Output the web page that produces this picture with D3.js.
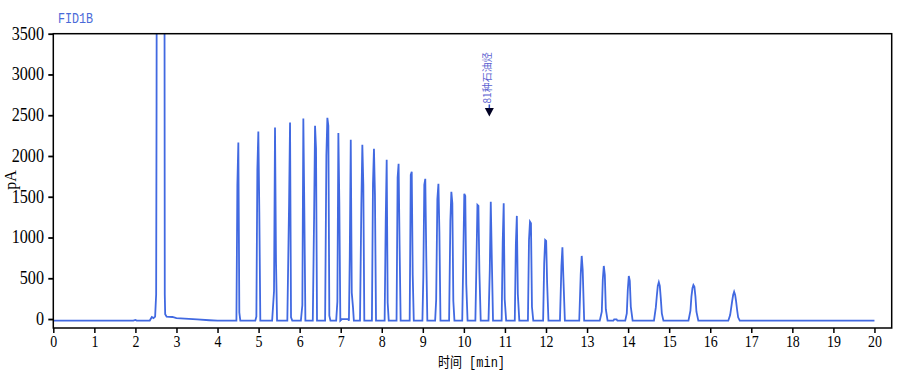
<!DOCTYPE html>
<html>
<head>
<meta charset="utf-8">
<script src="https://cdn.jsdelivr.net/npm/d3@7"></script>
<style>
  html, body { margin: 0; padding: 0; background: #fff; }
  svg { display: block; }
</style>
</head>
<body>
<svg id="chart" width="899" height="375"></svg>
<script>
// ---- data ----
const traceTime = [
  0, 1.95, 2.0, 2.03, 2.35, 2.40, 2.44, 2.48, 2.505, 2.515, 2.53, 2.70, 2.715, 2.725, 2.76, 2.90, 3.0, 3.2, 3.5, 3.8, 4.0,
  4.46, 4.483, 4.507, 4.531, 4.555,
  4.92, 4.946, 4.970, 4.994, 5.018, 5.042,
  5.33, 5.376, 5.40, 5.424, 5.45,
  5.70, 5.742, 5.766, 5.79, 5.82,
  6.03, 6.066, 6.09, 6.114, 6.14,
  6.32, 6.351, 6.375, 6.399, 6.423,
  6.62, 6.651, 6.675, 6.699, 6.723, 6.75,
  6.89, 6.919, 6.943, 6.967, 6.991,
  7.03, 7.18,
  7.20, 7.221, 7.245, 7.269, 7.30, 7.32,
  7.47, 7.503, 7.527, 7.551, 7.575,
  7.76, 7.786, 7.81, 7.834, 7.86,
  8.07, 8.096, 8.12, 8.144, 8.17,
  8.36, 8.386, 8.41, 8.434, 8.46,
  8.68, 8.706, 8.73, 8.754, 8.78,
  8.99, 9.012, 9.036, 9.06, 9.084, 9.11,
  9.30, 9.325, 9.354, 9.38, 9.404, 9.43,
  9.64, 9.671, 9.695, 9.719, 9.743, 9.77,
  9.96, 9.986, 10.01, 10.034, 10.058, 10.09,
  10.28, 10.306, 10.33, 10.354, 10.378, 10.41,
  10.60, 10.631, 10.655, 10.679, 10.71,
  10.92, 10.946, 10.97, 10.994, 11.03,
  11.24, 11.266, 11.29, 11.314, 11.35,
  11.56, 11.586, 11.61, 11.634, 11.658, 11.69,
  11.93, 11.956, 11.98, 12.004, 12.028, 12.06,
  12.34, 12.376, 12.40, 12.424, 12.46,
  12.81, 12.846, 12.87, 12.894, 12.93,
  13.31, 13.359, 13.384, 13.408, 13.433, 13.457, 13.50,
  13.64, 13.66, 13.72, 13.74,
  13.93, 13.968, 13.993, 14.017, 14.041, 14.066, 14.11,
  14.63, 14.675, 14.699, 14.723, 14.748, 14.772, 14.796, 14.821, 14.86,
  15.47, 15.518, 15.542, 15.567, 15.591, 15.615, 15.640, 15.664, 15.71,
  16.44, 16.485, 16.509, 16.534, 16.558, 16.582, 16.607, 16.631, 16.655, 16.680, 16.72,
  20.0
];
const traceSignal = [
  -20, -20, -12, -20, -18, 25, 12, 30, 300, 2650, 9000, 9000, 300, 60, 30, 25, 12, 5, -5, -15, -20,
  -20, 1646, 2166, 80, -20,
  -20, 30, 1830, 2301, 1302, -20,
  -20, 344, 2350, 712, -20,
  -20, 1400, 2412, 20, -20,
  -20, 172, 2461, 1339, -20,
  -20, 1216, 2371, 2088, -20,
  -20, 2002, 2469, 2371, 40, -20,
  -20, 213, 2281, 1413, -20,
  0, 0,
  -20, 786, 2199, 323, 140, -20,
  -20, 1413, 2138, 1646, -20,
  -20, 1658, 2088, 1523, -20,
  -20, 1183, 1953, 200, -20,
  -20, 1736, 1904, 909, -20,
  -20, 1769, 1806, 540, -20,
  -20, 516, 1646, 1720, 774, -20,
  -20, 233, 1470, 1658, 1060, -20,
  -20, 1204, 1560, 1421, 221, -20,
  -20, 758, 1536, 1511, 430, -20,
  -20, 684, 1400, 1388, 577, -20,
  -20, 602, 1437, 774, -20,
  -20, 950, 1421, 242, -20,
  -20, 921, 1265, 307, -20,
  -20, 970, 1195, 1175, 150, -20,
  -20, 684, 970, 958, 438, -20,
  -20, 651, 880, 500, -20,
  -20, 553, 774, 602, -20,
  -20, 90, 488, 651, 540, 120, -20,
  -20, -5, -5, -20,
  -20, 70, 365, 528, 467, 150, -20,
  -20, 143, 282, 405, 451, 405, 254, 70, -20,
  -20, 102, 274, 377, 418, 397, 274, 90, -20,
  -20, 49, 131, 221, 295, 335, 295, 213, 111, 21, -20,
  -20
];
const xTicks = [0,1,2,3,4,5,6,7,8,9,10,11,12,13,14,15,16,17,18,19,20];
const yTicks = [0,500,1000,1500,2000,2500,3000,3500];
const xDomain = [0, 20.42];
const yDomain = [-110, 3500];
const annoTime = [10.62];
const annoValue = [2485];
const annoLabel = ["81种石油烃"];
const titleText = "FID1B";
const xTitle = "时间 [min]";
const yTitle = "pA";

// ---- drawing ----
(function () {
const svg = d3.select("#chart");
const pLeft = 53.3, pRight = 891.7, pTop = 33.7, pBottom = 328;
const x = d3.scaleLinear().domain(xDomain).range([pLeft, pRight]);
const y = d3.scaleLinear().domain(yDomain).range([pBottom, pTop]);

svg.append("defs").append("clipPath").attr("id", "plotclip")
  .append("rect").attr("x", pLeft).attr("y", pTop)
  .attr("width", pRight - pLeft).attr("height", pBottom - pTop);

const pts = traceTime.map((t, i) => [t, traceSignal[i]]);
const line = d3.line().x(d => x(d[0])).y(d => y(d[1]));
svg.append("path")
  .attr("clip-path", "url(#plotclip)")
  .attr("d", line(pts))
  .attr("fill", "none")
  .attr("stroke", "#4169e1")
  .attr("stroke-width", 1.8)
  .attr("stroke-linejoin", "miter");

// axes
const xAxis = d3.axisBottom(x).tickValues(xTicks).tickFormat(d3.format("d"))
  .tickSizeInner(5).tickSizeOuter(0).tickPadding(8);
const gx = svg.append("g").attr("transform", `translate(0,${pBottom})`).call(xAxis);
gx.select(".domain").remove();
gx.selectAll("line").attr("stroke", "#000").attr("stroke-width", 1.5);
gx.selectAll("text")
  .attr("font-family", "'Liberation Serif', serif")
  .attr("font-size", 17)
  .attr("fill", "#000")
  .attr("y", 7)
  .attr("transform", "scale(0.82,1)");

const yAxis = d3.axisLeft(y).tickValues(yTicks).tickFormat(d3.format("d"))
  .tickSizeInner(5).tickSizeOuter(0);
const gy = svg.append("g").attr("transform", `translate(${pLeft},0)`).call(yAxis);
gy.select(".domain").remove();
gy.selectAll("line").attr("stroke", "#000").attr("stroke-width", 1.8);
gy.selectAll("text")
  .attr("font-family", "'Liberation Serif', serif")
  .attr("font-size", 19)
  .attr("fill", "#000")
  .attr("x", -11)
  .attr("dy", "0.28em")
  .attr("transform", "scale(0.85,1)");

// frame
svg.append("rect")
  .attr("x", pLeft).attr("y", pTop)
  .attr("width", pRight - pLeft).attr("height", pBottom - pTop)
  .attr("fill", "none").attr("stroke", "#000").attr("stroke-width", 1.5);

// title
svg.append("text")
  .attr("transform", "translate(58,23) scale(0.78,1)")
  .attr("font-family", "'Liberation Mono', monospace")
  .attr("font-size", 15)
  .attr("fill", "#4a6ad8")
  .text(titleText);

// axis titles
svg.append("text")
  .attr("x", 438).attr("y", 367)
  .attr("font-family", "'Liberation Mono', 'Noto Sans CJK SC', monospace")
  .attr("font-size", 14)
  .attr("textLength", 67).attr("lengthAdjust", "spacingAndGlyphs")
  .attr("fill", "#000")
  .text(xTitle);

svg.append("text")
  .attr("transform", "translate(16,180) rotate(-90)")
  .attr("text-anchor", "middle")
  .attr("font-family", "'Liberation Serif', serif")
  .attr("font-size", 16)
  .attr("fill", "#000")
  .text(yTitle);

// annotation
annoTime.forEach((t, i) => {
  const ax = x(t), ay = y(annoValue[i]);
  svg.append("line")
    .attr("x1", ax).attr("x2", ax).attr("y1", ay - 12).attr("y2", ay - 8)
    .attr("stroke", "#3050c0").attr("stroke-width", 1.5);
  svg.append("path")
    .attr("d", `M${ax - 4.5},${ay - 8.5} L${ax + 4.5},${ay - 8.5} L${ax},${ay} Z`)
    .attr("fill", "#000022");
  svg.append("text")
    .attr("transform", `translate(${ax + 2},${ay - 13}) rotate(-90)`)
    .attr("font-family", "'Noto Sans CJK SC', sans-serif")
    .attr("font-size", 10)
    .attr("fill", "#5a5fd0")
    .text(annoLabel[i]);
});
})();
</script>
</body>
</html>
